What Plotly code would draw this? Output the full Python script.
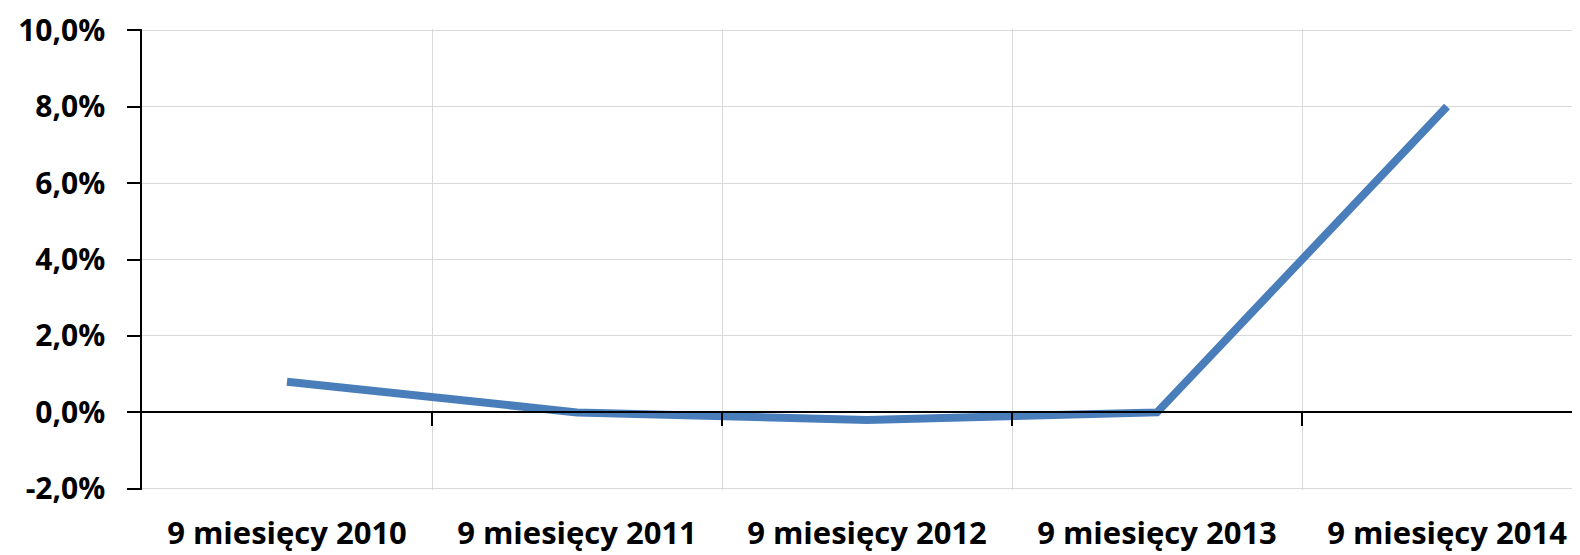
import plotly.graph_objects as go

# data
periods = ["9 miesięcy 2010", "9 miesięcy 2011", "9 miesięcy 2012",
           "9 miesięcy 2013", "9 miesięcy 2014"]
growth_pct = [0.8, 0.0, -0.2, 0.0, 8.0]
y_ticks = [-2, 0, 2, 4, 6, 8, 10]
y_labels = [f"{v:.1f}%".replace(".", ",") for v in y_ticks]

LINE_BLUE = "#4A7EBB"
GRID = "#D9D9D9"
FONT = dict(family="Open Sans", size=31, color="black", weight="bold")
YFONT = dict(FONT, size=30)

n = len(periods)
x_pos = list(range(n))
x_range = [-0.5, n - 0.5 - 0.0414]  # right edge of plot is cut by the image
boundaries = [i + 0.5 for i in range(n - 1)]

# pad the y range a hair so the gridlines at -2% and 10% still get drawn
pad = 0.03
y_range = [y_ticks[0] - pad, y_ticks[-1] + pad]
zero_pos = (0 - y_range[0]) / (y_range[1] - y_range[0])

fig = go.Figure()
fig.add_trace(go.Scatter(
    x=x_pos, y=growth_pct,
    mode="lines",
    line=dict(color=LINE_BLUE, width=8),
    showlegend=False,
))

# page body has an 8px margin, so the figure is a bit smaller than the window
fig.update_layout(
    width=1572, height=547,
    margin=dict(l=134, r=0, t=21, b=65),
    paper_bgcolor="white", plot_bgcolor="white",
    font=FONT,
    # category labels at the bottom
    xaxis=dict(
        range=x_range, tickvals=x_pos, ticktext=periods,
        showgrid=False, zeroline=False, showline=False,
        ticks="", ticklabelstandoff=22, automargin=False,
        ticklabeloverflow="allow",
        tickfont=FONT,
    ),
    # axis through zero with ticks and vertical grid at category boundaries
    xaxis2=dict(
        overlaying="x", anchor="free", position=zero_pos,
        range=x_range, tickvals=boundaries,
        showticklabels=False, automargin=False,
        showgrid=True, gridcolor=GRID, gridwidth=1.2,
        showline=True, linecolor="black", linewidth=1.5,
        ticks="outside", ticklen=13, tickcolor="black", tickwidth=1.5,
        zeroline=False,
    ),
    yaxis=dict(
        range=y_range, tickvals=y_ticks, ticktext=y_labels,
        showgrid=True, gridcolor=GRID, gridwidth=1.2,
        zeroline=False, automargin=False,
        showline=True, linecolor="black", linewidth=1.5,
        ticks="outside", ticklen=13, tickcolor="black", tickwidth=1.5,
        ticklabelstandoff=16, ticklabeloverflow="allow",
        tickfont=YFONT,
    ),
)

# invisible trace so the second x axis gets drawn
fig.add_trace(go.Scatter(x=[x_range[0]], y=[None], xaxis="x2",
                         showlegend=False, hoverinfo="skip"))

fig.write_html("out.html")
